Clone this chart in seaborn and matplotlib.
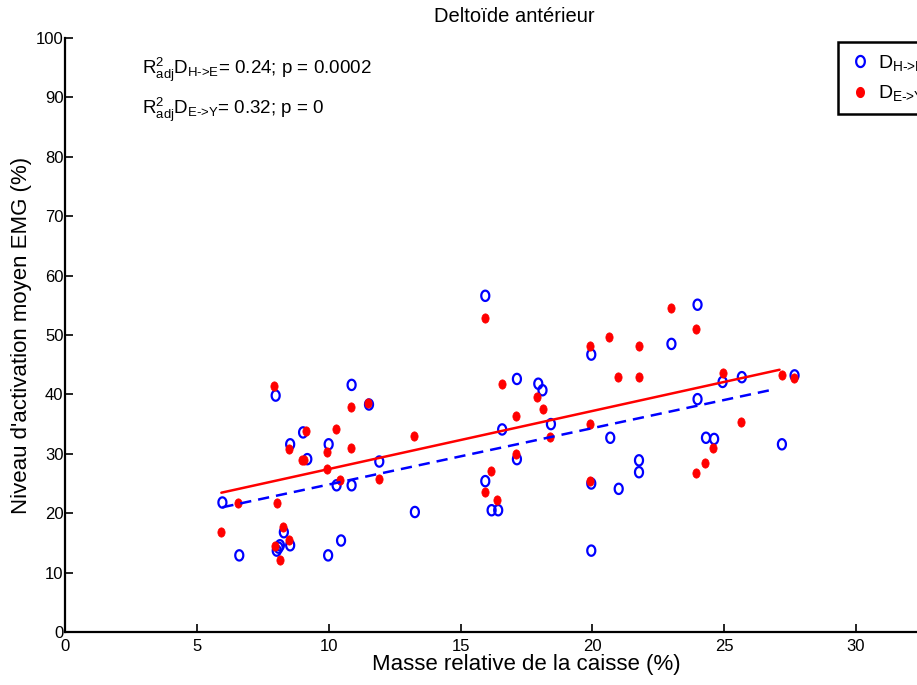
import numpy as np
import pandas as pd
import matplotlib
matplotlib.use("Agg")
import matplotlib.pyplot as plt
import seaborn as sns
from matplotlib.path import Path
from matplotlib.lines import Line2D

# ---- data ----
he_x = [10.87, 7.99, 11.53, 9.03, 8.54, 10.00, 9.19, 11.92, 10.30, 10.87, 5.97, 13.27,
        8.30, 8.15, 8.03, 8.10, 8.54, 10.47, 6.61, 9.98,
        15.94, 17.14, 17.95, 18.11, 19.96, 23.00, 16.58, 18.43, 20.68, 17.14, 21.77, 21.77,
        15.94, 19.96, 21.00, 16.18, 16.43, 19.96,
        23.99, 24.94, 25.67, 27.67, 23.99, 24.31, 24.62, 27.19]
he_y = [41.6, 39.8, 38.3, 33.6, 31.6, 31.6, 29.1, 28.7, 24.7, 24.7, 21.8, 20.2,
        16.8, 14.6, 13.7, 14.2, 14.6, 15.4, 12.9, 12.9,
        56.6, 42.6, 41.8, 40.7, 46.7, 48.5, 34.1, 35.0, 32.7, 29.1, 28.9, 26.9,
        25.4, 25.0, 24.1, 20.5, 20.5, 13.7,
        55.1, 42.1, 42.9, 43.2, 39.2, 32.7, 32.5, 31.6]

ey_x = [7.93, 10.83, 11.50, 9.14, 10.28, 8.49, 9.95, 10.83, 8.97, 9.06, 9.95, 13.25,
        11.92, 10.43, 6.57, 8.03, 5.93, 8.27, 8.51, 7.95, 8.14,
        15.94, 23.00, 20.64, 19.92, 21.77, 20.97, 21.77, 16.58, 17.91, 18.11, 17.10, 19.92,
        18.39, 17.10, 16.14, 15.94, 16.38, 19.92,
        23.94, 24.94, 27.19, 27.63, 25.62, 24.59, 24.27, 23.94]
ey_y = [41.4, 37.8, 38.5, 33.9, 34.2, 30.8, 30.3, 31.0, 29.0, 29.0, 27.4, 33.0,
        25.8, 25.6, 21.8, 21.8, 16.8, 17.6, 15.5, 14.4, 12.2,
        52.8, 54.5, 49.6, 48.2, 48.2, 43.0, 43.0, 41.8, 39.6, 37.5, 36.4, 35.0,
        32.8, 30.0, 27.1, 23.6, 22.2, 25.5,
        51.0, 43.6, 43.2, 42.8, 35.3, 31.0, 28.5, 26.8]

# fitted lines (end points)
fit_he_x = [5.97, 26.94]
fit_he_y = [21.0, 40.9]
fit_ey_x = [5.93, 27.10]
fit_ey_y = [23.45, 44.15]

title = "Deltoïde antérieur"
xlabel = "Masse relative de la caisse (%)"
ylabel = "Niveau d'activation moyen EMG (%)"
note1 = r"$R^{2}_{adj}D_{H\text{->}E}$= 0.24; p = 0.0002"
note2 = r"$R^{2}_{adj}D_{E\text{->}Y}$= 0.32; p = 0"
leg1 = r"$D_{H\text{->}E}$"
leg2 = r"$D_{E\text{->}Y}$"
xticks = [0, 5, 10, 15, 20, 25, 30]
yticks = list(range(0, 101, 10))

# ---- style ----
sns.set_theme(style="white")
plt.rcParams["font.family"] = ["Liberation Sans", "DejaVu Sans"]
plt.rcParams["mathtext.fontset"] = "custom"
plt.rcParams["mathtext.rm"] = "Liberation Sans"
plt.rcParams["mathtext.it"] = "Liberation Sans"
plt.rcParams["mathtext.default"] = "regular"
plt.rcParams["text.color"] = "black"
plt.rcParams["axes.labelcolor"] = "black"

W, H = 917, 685
fig = plt.figure(figsize=(W / 100, H / 100), dpi=100)
px_per_x = (856 - 65) / 30.0
ax = fig.add_axes([65 / W, (H - 632) / H, 35 * px_per_x / W, (632 - 38) / H])

# elliptical marker (taller than wide, like the reference)
t = np.linspace(0, 2 * np.pi, 60)
ell = Path(np.column_stack([0.78 * np.cos(t), np.sin(t)]), closed=True)

df_he = pd.DataFrame({"x": he_x, "y": he_y})
df_ey = pd.DataFrame({"x": ey_x, "y": ey_y})

sns.scatterplot(data=df_he, x="x", y="y", ax=ax, marker=ell, s=55,
                facecolor="none", edgecolor="#0000ff", linewidth=1.6, zorder=3)
sns.scatterplot(data=df_ey, x="x", y="y", ax=ax, marker=ell, s=45,
                color="#ff0000", edgecolor="#ff0000", linewidth=0.5, zorder=3)

sns.lineplot(x=fit_ey_x, y=fit_ey_y, ax=ax, color="#ff0000", linewidth=1.8, zorder=4)
sns.lineplot(x=fit_he_x, y=fit_he_y, ax=ax, color="#0000ff", linewidth=1.8,
             linestyle=(0, (4.5, 2.8)), zorder=4)

ax.set_xlim(0, 35)
ax.set_ylim(0, 100)
ax.set_xticks(xticks)
ax.set_yticks(yticks)
ax.tick_params(direction="in", length=6, width=1.2, labelsize=12, colors="black",
               bottom=True, left=True)
ax.tick_params(axis="x", pad=5)
ax.tick_params(axis="y", pad=1)
for s in ["top", "right"]:
    ax.spines[s].set_visible(False)
for s in ["left", "bottom"]:
    ax.spines[s].set_color("black")
    ax.spines[s].set_linewidth(1.6)
ax.set_xlabel(xlabel, fontsize=16, labelpad=0, color="black")
ax.set_ylabel(ylabel, fontsize=16, labelpad=3, color="black")
ax.set_facecolor("white")

fig.text(514 / W, 1 - 17 / H, title, ha="center", va="center", fontsize=14.5, color="black")

ax.text(2.92, 94.7, note1, fontsize=13.5, ha="left", va="center", color="black")
ax.text(2.92, 87.9, note2, fontsize=13.5, ha="left", va="center", color="black")

handles = [
    Line2D([], [], linestyle="none", marker=ell, markersize=8, markerfacecolor="none",
           markeredgecolor="#0000ff", markeredgewidth=1.6),
    Line2D([], [], linestyle="none", marker=ell, markersize=7, markerfacecolor="#ff0000",
           markeredgecolor="#ff0000"),
]
leg = fig.legend(handles, [leg1, leg2], loc="upper left",
                 bbox_to_anchor=(838 / W, 1 - 42 / H), borderaxespad=0,
                 fontsize=14, frameon=True,
                 fancybox=False, framealpha=1, edgecolor="black", handletextpad=0.3,
                 borderpad=0.55, labelspacing=0.55, handlelength=1.2)
for txt in leg.get_texts():
    txt.set_color("black")
leg.get_frame().set_linewidth(1.8)

fig.savefig("out.png", dpi=100)
